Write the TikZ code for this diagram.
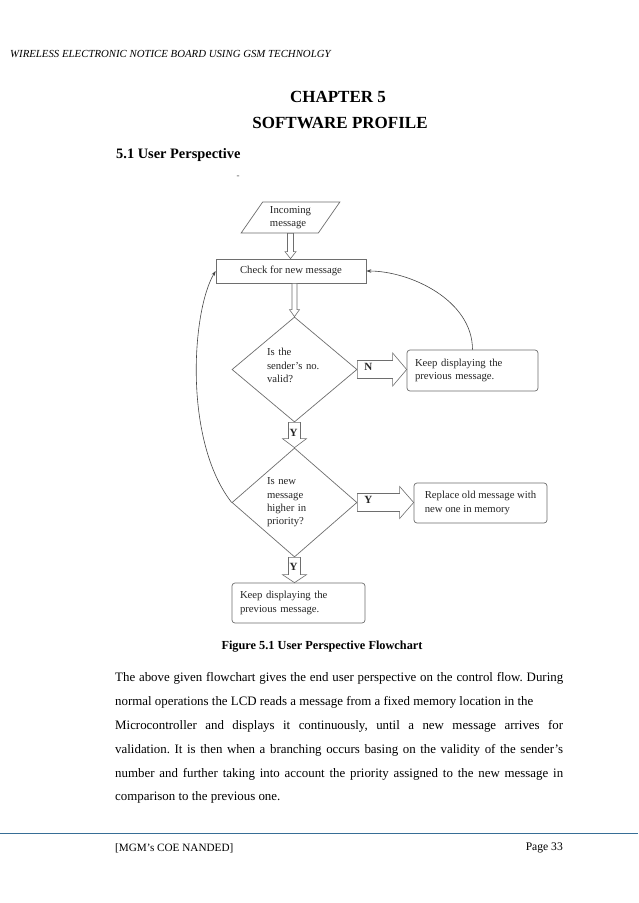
\documentclass[tikz,border=0pt]{standalone}
\usepackage{fontspec}
\setmainfont{Liberation Serif}
\usetikzlibrary{shapes.geometric,arrows.meta,calc}
\definecolor{fline}{RGB}{110,110,110}
\definecolor{lline}{RGB}{70,70,70}
\definecolor{footblue}{RGB}{55,110,150}
\tikzset{
  flowtext/.style={font=\fontsize{10.7}{13.3}\selectfont, text=black!85},
  heading/.style={font=\bfseries\fontsize{17}{20}\selectfont, inner sep=0},
  sqbox/.style={flowtext, draw=fline, line width=0.7pt, inner sep=0},
  rbox/.style={flowtext, draw=fline, line width=0.7pt, rounded corners=3pt, align=left, inner ysep=0, inner xsep=8pt},
  dia/.style={flowtext, diamond, draw=fline, line width=0.7pt, inner sep=0, minimum width=125pt, align=left, text width=55pt},
  hollow/.style={draw=fline, line width=0.6pt, fill=white},
  yn/.style={font=\bfseries\fontsize{11}{12}\selectfont, text=black!85, inner sep=0},
  loopline/.style={draw=lline, line width=0.6pt, -{Stealth[length=5pt,width=3.5pt]}}
}
% vertical hollow arrow: start, end, shaft half width, head half width, head length
\newcommand\vharrow[5]{%
  \draw[hollow] let \p1=(#1), \p2=(#2) in
    (\x1-#3,\y1) -- (\x1-#3,\y2+#5) -- (\x1-#4,\y2+#5) -- (\x1,\y2)
    -- (\x1+#4,\y2+#5) -- (\x1+#3,\y2+#5) -- (\x1+#3,\y1) -- cycle;}
% horizontal hollow arrow (to the right)
\newcommand\hharrow[5]{%
  \draw[hollow] let \p1=(#1), \p2=(#2) in
    (\x1,\y1-#3) -- (\x2-#5,\y1-#3) -- (\x2-#5,\y1-#4) -- (\x2,\y1)
    -- (\x2-#5,\y1+#4) -- (\x2-#5,\y1+#3) -- (\x1,\y1+#3) -- cycle;}
\begin{document}
\frenchspacing
\begin{tikzpicture}[x=1pt,y=-1pt]
\useasboundingbox[fill=white] (0,0) rectangle (638,903);

% page header and titles
\node[anchor=west, inner sep=0, font=\itshape\fontsize{10.8}{12}\selectfont] (hdr) at (10,54)
  {WIRELESS ELECTRONIC NOTICE BOARD USING GSM TECHNOLGY};
\node[heading] (ch) at (338,97) {CHAPTER 5};
\node[heading] (sp) at (340,123) {SOFTWARE PROFILE};
\node[anchor=west, inner sep=0, font=\bfseries\fontsize{14.4}{16}\selectfont] (sec) at (116,155) {5.1 User Perspective};
\node[inner sep=0, font=\fontsize{9}{9}\selectfont, text=black!70] (dash) at (238,177) {-};

% flowchart nodes
\node[flowtext, trapezium, trapezium left angle=55, trapezium right angle=125,
      trapezium stretches=true, minimum width=99pt, minimum height=31pt,
      draw=fline, line width=0.7pt, inner sep=0, align=left] (inc) at (290.5,217.5) {Incoming\\message};
\node[sqbox, minimum width=150pt, minimum height=24pt] (chk) at (291,271) {Check for new message};
\node[dia, minimum height=105pt] (d1) at (294.5,369.5) {Is the\\sender’s no.\\valid?\vspace{8pt}};
\node[rbox, minimum width=131pt, minimum height=41pt, text width=115pt] (k1) at (472.5,370.5)
  {Keep displaying the\\previous message.};
\node[dia, minimum height=109pt] (d2) at (294.5,502.5) {Is new\\message\\higher in\\priority?};
\node[rbox, minimum width=133pt, minimum height=40pt] (k2) at (480.5,503)
  {Replace old message with\\new one in memory};
\node[rbox, minimum width=133pt, minimum height=40pt, text width=117pt] (k3) at (298.5,603)
  {Keep displaying the\\previous message.};

% hollow arrows
\vharrow{inc.south}{chk.north}{3pt}{5.5pt}{7pt}
\vharrow{d1.north |- chk.south}{d1.north}{2.5pt}{5pt}{7pt}
\hharrow{d1.east}{k1.west |- d1.east}{9pt}{16.5pt}{14pt}
\vharrow{d1.south}{d2.north}{6pt}{12pt}{9pt}
\hharrow{d2.east}{k2.west |- d2.east}{9pt}{16pt}{14pt}
\vharrow{d2.south}{k3.north -| d2.south}{6pt}{12pt}{8pt}

% arrow labels
\node[yn] (ln) at ($(d1.east)+(11,-3)$) {N};
\node[yn] (ly1) at ($(d1.south)+(-1,11)$) {Y};
\node[yn] (ly2) at ($(d2.east)+(11,-3)$) {Y};
\node[yn] (ly3) at ($(d2.south)+(-1,10)$) {Y};

% loop-back curves
\draw[loopline] (k1.north) .. controls (472.5,300) and (410,271) .. (chk.east);
\draw[loopline] (d2.west) .. controls (183,440) and (192,310) .. (chk.west);

% caption and body text
\node[inner sep=0, font=\bfseries\fontsize{12.3}{15}\selectfont] (cap) at (322,647)
  {Figure 5.1 User Perspective Flowchart};
\node[anchor=north west, inner sep=0, text width=448pt, align=justify,
      font=\fontsize{12.9}{23.8}\selectfont] (body) at (115,672.6)
  {The above given flowchart gives the end user perspective on the control flow. During\linebreak
   normal operations the LCD reads a message from a fixed memory location in the\newline
   Microcontroller and displays it continuously, until a new message arrives for\linebreak
   validation. It is then when a branching occurs basing on the validity of the sender’s\linebreak
   number and further taking into account the priority assigned to the new message in\linebreak
   comparison to the previous one.};

% footer
\draw[footblue, line width=0.8pt] (0,833) -- (638,833);
\node[anchor=west, inner sep=0, font=\fontsize{11.2}{13}\selectfont] (ft) at (115,848) {[MGM’s COE NANDED]};
\node[anchor=east, inner sep=0, font=\fontsize{11.6}{13}\selectfont] (pg) at (563,848) {Page 33};
\end{tikzpicture}
\end{document}
